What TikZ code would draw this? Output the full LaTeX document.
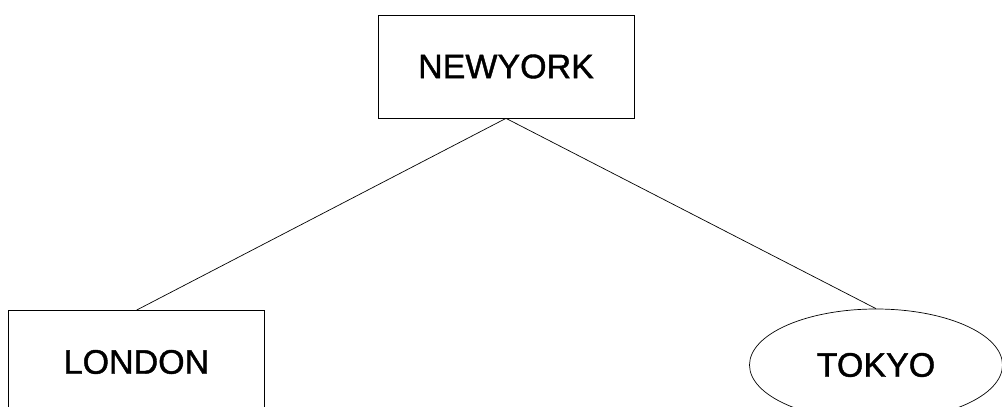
\documentclass[tikz,border=0pt]{standalone}
\usepackage{fontspec}
\setmainfont[FakeBold=1.2]{Liberation Sans}
\usetikzlibrary{shapes.geometric}
\begin{document}
\begin{tikzpicture}[x=1pt,y=-1pt,
  every node/.style={font=\fontsize{34}{40}\selectfont, inner sep=0pt, draw, line width=0.7pt},
  boxnode/.style={rectangle, minimum width=256pt, minimum height=103pt},
  ovalnode/.style={ellipse, minimum width=253pt, minimum height=112pt},
  link/.style={line width=0.7pt}]
\useasboundingbox (0,0) rectangle (1002,407);
\clip (0,0) rectangle (1002,407);
\node[boxnode] (ny) at (506,66.5) {NEWYORK};
\node[boxnode] (lon) at (136.5,362) {LONDON};
\node[ovalnode] (tok) at (876,365) {TOKYO};
\draw[link] (ny.south) -- (lon.north);
\draw[link] (ny.south) -- (tok.north);
\end{tikzpicture}
\end{document}
